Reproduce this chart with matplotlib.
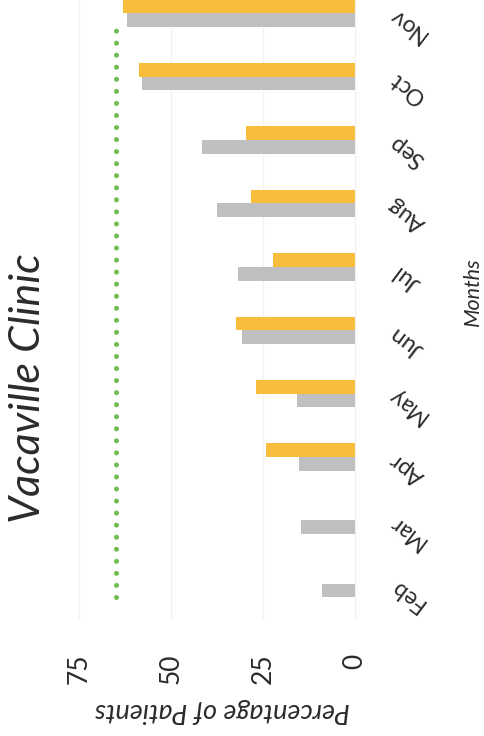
import matplotlib.pyplot as plt
from matplotlib.transforms import ScaledTranslation, blended_transform_factory

months = ['Feb', 'Mar', 'Apr', 'May', 'Jun', 'Jul', 'Aug', 'Sep', 'Oct', 'Nov']
grey_vals = [8.9, 14.6, 15.3, 15.7, 30.6, 31.8, 37.5, 41.6, 58.0, 62.0]
orange_vals = [0, 0, 24.1, 26.8, 32.3, 22.3, 28.3, 29.6, 58.7, 63.0]
target = 65
value_ticks = [0, 25, 50, 75]

orange = '#F8BD3C'
grey = '#BFBFBF'
green = '#6DBE4F'
txt = '#2b2b2b'

plt.rcParams['font.family'] = ['Lato', 'DejaVu Sans']

fig = plt.figure(figsize=(4.85, 7.36), dpi=100)
# axes placed so the top category is partly cut off like the scan
ax = fig.add_axes([60 / 485, 116 / 736, 300 / 485, 620 / 736])

pos = list(range(len(months)))
h = 0.215
ax.barh([p - h / 2 for p in pos], grey_vals, height=h, color=grey, zorder=2)
ax.barh([p + h / 2 for p in pos], orange_vals, height=h, color=orange, zorder=2)

# dotted target line
ax.vlines(target, pos[0] - 0.2, pos[-1] - 0.2, colors=green, lw=3.6,
          linestyles=[(0, (0.01, 2.4))], capstyle='round', zorder=3)

ax.set_xlim(80.2, -1.36)
ax.set_ylim(-0.57, 9.21)

ax.set_xticks(value_ticks)
ax.set_xticklabels([str(v) for v in value_ticks], rotation=90, fontsize=19,
                   color=txt)
ax.tick_params(axis='x', length=0, pad=24)
ax.set_yticks([])
ax.grid(axis='x', color='#f2f2f2', lw=1, zorder=0)
for s in ax.spines.values():
    s.set_visible(False)

# month labels, rotated as in the scan
tr = blended_transform_factory(ax.transAxes, ax.transData) + \
    ScaledTranslation(47 / 100, -11 / 100, fig.dpi_scale_trans)
for p, m in zip(pos, months):
    ax.text(1.0, p, m, transform=tr, rotation=143, ha='center', va='center',
            rotation_mode='anchor', fontsize=16.5, color=txt)

fig.text(28 / 485, 1 - 388 / 736, 'Vacaville Clinic', rotation=90,
         ha='center', va='center', fontsize=31, style='italic', color=txt)
fig.text(222 / 485, 1 - 710 / 736, 'Percentage of Patients', rotation=180,
         ha='center', va='center', fontsize=19.5, style='italic', color=txt)
fig.text(473 / 485, 1 - 292 / 736, 'Months', rotation=90,
         ha='center', va='center', fontsize=15.5, style='italic', color=txt)

fig.savefig('out.png', dpi=100)
